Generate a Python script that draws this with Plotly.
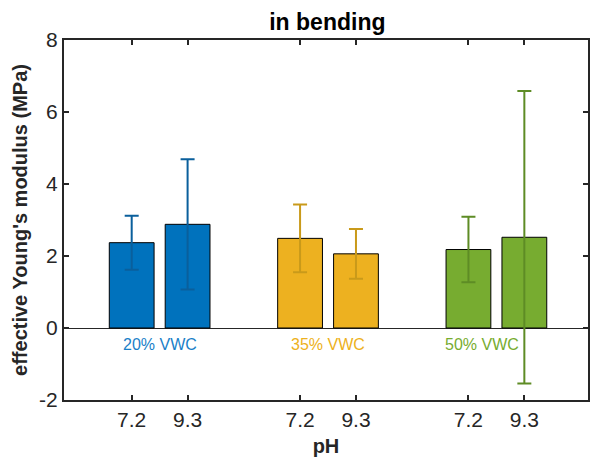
import plotly.graph_objects as go

groups = ["20% VWC", "35% VWC", "50% VWC"]
ph_labels = ["7.2", "9.3"]
means = [[2.37, 2.88], [2.49, 2.06], [2.18, 2.52]]
errs = [[0.75, 1.81], [0.94, 0.69], [0.91, 4.06]]
bar_colors = ["#0072BD", "#EDB120", "#77AC30"]
err_colors = ["#0A5F9C", "#C99A1A", "#5E8C25"]
label_colors = ["#1A7FC8", "#EDB120", "#77AC30"]
label_x = [1.0, 2.0, 2.914]
y_ticks = [-2, 0, 2, 4, 6, 8]
y_ticktext = ["-2", "0", "2", "4", "6", "8"]

offset = 0.166
width = 0.266

fig = go.Figure()
tickvals, ticktext = [], []
for gi, g in enumerate(groups):
    xs = [gi + 1 - offset, gi + 1 + offset]
    tickvals += xs
    ticktext += ph_labels
    fig.add_trace(go.Bar(
        x=xs, y=means[gi], width=width,
        marker=dict(color=bar_colors[gi], line=dict(color="#000000", width=1)),
        error_y=dict(type="data", array=errs[gi], visible=True,
                     color=err_colors[gi], thickness=2, width=7),
        showlegend=False,
    ))
    fig.add_annotation(x=label_x[gi], y=-0.45, text=g, showarrow=False,
                       font=dict(size=16, color=label_colors[gi]),
                       xanchor="center", yanchor="middle")

axis_common = dict(showline=True, linewidth=2, linecolor="#262626", mirror="allticks",
                   ticks="inside", ticklen=5, tickwidth=2, tickcolor="#262626",
                   showgrid=False, tickfont=dict(size=21, color="#262626"))

fig.update_layout(
    width=592, height=462,
    margin=dict(l=64, r=2, t=40, b=62),
    paper_bgcolor="white", plot_bgcolor="white",
    font=dict(family="Liberation Sans, Arial, Helvetica, sans-serif", color="#262626"),
    title=dict(text="<b>in bending</b>", x=0.553, xanchor="center", y=0.952, yanchor="middle",
               font=dict(size=23, color="#000000")),
    barmode="overlay",
    xaxis=dict(range=[0.432, 3.544], tickvals=tickvals, ticktext=ticktext,
               title=dict(text="<b>pH</b>", font=dict(size=20), standoff=9),
               zeroline=False, **axis_common),
    yaxis=dict(range=[-2, 8], tickvals=y_ticks, ticktext=y_ticktext,
               title=dict(text="<b>effective Young's modulus (MPa)</b>", font=dict(size=20), standoff=6),
               zeroline=True, zerolinecolor="#262626", zerolinewidth=1,
               **axis_common),
)

fig.write_html("out.html")
